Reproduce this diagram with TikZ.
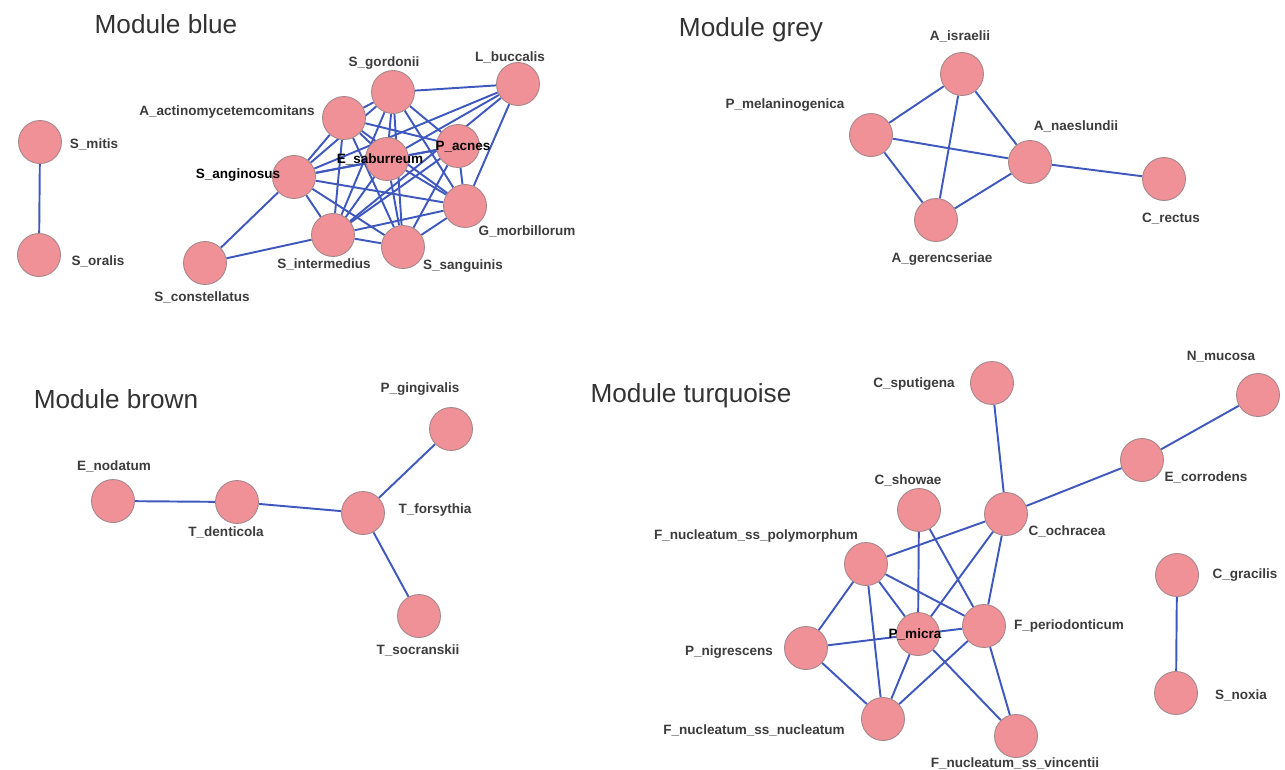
\documentclass[tikz,border=0pt]{standalone}
\usepackage{fontspec}
\setmainfont{Liberation Sans}
\usetikzlibrary{backgrounds}
\definecolor{bugpink}{RGB}{240,145,152}
\definecolor{bugrim}{RGB}{165,135,138}
\definecolor{linkblue}{RGB}{62,88,190}
\definecolor{lblgrey}{RGB}{60,60,60}
\begin{document}
\begin{tikzpicture}[x=0.02cm,y=-0.02cm,
    bug/.style={circle,fill=bugpink,draw=bugrim,line width=0.5pt,minimum size=0.86cm,inner sep=0pt},
    lbl/.style={font=\fontsize{7.7}{9}\selectfont\bfseries,text=lblgrey,inner sep=1pt},
    hot/.style={lbl,text=black},
    title/.style={font=\fontsize{14.9}{17}\selectfont,text=black!80,inner sep=0pt},
    link/.style={linkblue,line width=1.1pt}]

    \useasboundingbox (0,0) rectangle (1285,769);

    \node[title] (tblue) at (166,24) {Module blue};
    \node[title] (tgrey) at (751,30) {Module grey};
    \node[title] (tbrown) at (116,399) {Module brown};
    \node[title] (tturq) at (691,396) {Module turquoise};

    \node[bug] (mit) at (40,142) {};
    \node[bug] (ora) at (39,255) {};
    \node[bug] (gor) at (393,92) {};
    \node[bug] (buc) at (518,84) {};
    \node[bug] (act) at (344,118) {};
    \node[bug] (acn) at (458,146) {};
    \node[bug] (sab) at (387,159) {};
    \node[bug] (ang) at (294,177) {};
    \node[bug] (mor) at (465,206) {};
    \node[bug] (int) at (333,235) {};
    \node[bug] (san) at (403,247) {};
    \node[bug] (con) at (205,263) {};

    \node[bug] (isr) at (962,74) {};
    \node[bug] (mel) at (871,135) {};
    \node[bug] (nae) at (1030,162) {};
    \node[bug] (rec) at (1164,179) {};
    \node[bug] (ger) at (936,220) {};

    \node[bug] (nod) at (113,501) {};
    \node[bug] (den) at (237,502) {};
    \node[bug] (for) at (363,513) {};
    \node[bug] (gin) at (451,429) {};
    \node[bug] (soc) at (419,616) {};

    \node[bug] (spu) at (992,383) {};
    \node[bug] (muc) at (1258,395) {};
    \node[bug] (cor) at (1142,460) {};
    \node[bug] (sho) at (919,510) {};
    \node[bug] (och) at (1006,514) {};
    \node[bug] (pol) at (866,564) {};
    \node[bug] (gra) at (1177,575) {};
    \node[bug] (per) at (984,626) {};
    \node[bug] (mic) at (918,634) {};
    \node[bug] (nig) at (806,648) {};
    \node[bug] (nox) at (1176,693) {};
    \node[bug] (nuc) at (883,719) {};
    \node[bug] (vin) at (1016,736) {};

    \node[lbl] (mit-t) at (94,144) {S\_mitis};
    \node[lbl] (ora-t) at (98,261) {S\_oralis};
    \node[lbl] (gor-t) at (384,63) {S\_gordonii};
    \node[lbl] (buc-t) at (510,57) {L\_buccalis};
    \node[lbl] (act-t) at (227,112) {A\_actinomycetemcomitans};
    \node[hot] (acn-t) at (463,147) {P\_acnes};
    \node[hot] (sab-t) at (380,159) {E\_saburreum};
    \node[hot] (ang-t) at (238,175) {S\_anginosus};
    \node[lbl] (mor-t) at (527,231) {G\_morbillorum};
    \node[lbl] (int-t) at (324,264) {S\_intermedius};
    \node[lbl] (san-t) at (463,266) {S\_sanguinis};
    \node[lbl] (con-t) at (202,297) {S\_constellatus};

    \node[lbl] (isr-t) at (960,36) {A\_israelii};
    \node[lbl] (mel-t) at (785,105) {P\_melaninogenica};
    \node[lbl] (nae-t) at (1076,126) {A\_naeslundii};
    \node[lbl] (rec-t) at (1171,219) {C\_rectus};
    \node[lbl] (ger-t) at (942,259) {A\_gerencseriae};

    \node[lbl] (nod-t) at (114,466) {E\_nodatum};
    \node[lbl] (den-t) at (226,532) {T\_denticola};
    \node[lbl] (for-t) at (435,510) {T\_forsythia};
    \node[lbl] (gin-t) at (420,389) {P\_gingivalis};
    \node[lbl] (soc-t) at (418,650) {T\_socranskii};

    \node[lbl] (spu-t) at (914,384) {C\_sputigena};
    \node[lbl] (muc-t) at (1221,357) {N\_mucosa};
    \node[lbl] (cor-t) at (1206,477) {E\_corrodens};
    \node[lbl] (sho-t) at (908,480) {C\_showae};
    \node[lbl] (och-t) at (1067,531) {C\_ochracea};
    \node[lbl] (pol-t) at (756,536) {F\_nucleatum\_ss\_polymorphum};
    \node[lbl] (gra-t) at (1245,575) {C\_gracilis};
    \node[lbl] (per-t) at (1069,626) {F\_periodonticum};
    \node[hot] (mic-t) at (915,634) {P\_micra};
    \node[lbl] (nig-t) at (729,652) {P\_nigrescens};
    \node[lbl] (nox-t) at (1241,695) {S\_noxia};
    \node[lbl] (nuc-t) at (754,730) {F\_nucleatum\_ss\_nucleatum};
    \node[lbl] (vin-t) at (1015,763) {F\_nucleatum\_ss\_vincentii};

    \begin{scope}[on background layer]
    \draw[link] (mit) -- (ora);
    \draw[link] (gor) -- (act);
    \draw[link] (gor) -- (acn);
    \draw[link] (gor) -- (sab);
    \draw[link] (gor) -- (ang);
    \draw[link] (gor) -- (mor);
    \draw[link] (gor) -- (int);
    \draw[link] (gor) -- (san);
    \draw[link] (act) -- (acn);
    \draw[link] (act) -- (sab);
    \draw[link] (act) -- (ang);
    \draw[link] (act) -- (mor);
    \draw[link] (act) -- (int);
    \draw[link] (act) -- (san);
    \draw[link] (acn) -- (sab);
    \draw[link] (acn) -- (ang);
    \draw[link] (acn) -- (mor);
    \draw[link] (acn) -- (int);
    \draw[link] (acn) -- (san);
    \draw[link] (sab) -- (ang);
    \draw[link] (sab) -- (mor);
    \draw[link] (sab) -- (int);
    \draw[link] (sab) -- (san);
    \draw[link] (ang) -- (mor);
    \draw[link] (ang) -- (int);
    \draw[link] (ang) -- (san);
    \draw[link] (mor) -- (int);
    \draw[link] (mor) -- (san);
    \draw[link] (int) -- (san);
    \draw[link] (buc) -- (gor);
    \draw[link] (buc) -- (ang);
    \draw[link] (buc) -- (sab);
    \draw[link] (buc) -- (int);
    \draw[link] (buc) -- (mor);
    \draw[link] (con) -- (ang);
    \draw[link] (con) -- (int);

    \draw[link] (isr) -- (mel);
    \draw[link] (isr) -- (nae);
    \draw[link] (isr) -- (ger);
    \draw[link] (mel) -- (nae);
    \draw[link] (mel) -- (ger);
    \draw[link] (nae) -- (ger);
    \draw[link] (nae) -- (rec);

    \draw[link] (nod) -- (den);
    \draw[link] (den) -- (for);
    \draw[link] (for) -- (gin);
    \draw[link] (for) -- (soc);

    \draw[link] (spu) -- (och);
    \draw[link] (muc) -- (cor);
    \draw[link] (cor) -- (och);
    \draw[link] (och) -- (pol);
    \draw[link] (och) -- (mic);
    \draw[link] (och) -- (per);
    \draw[link] (sho) -- (mic);
    \draw[link] (sho) -- (per);
    \draw[link] (pol) -- (per);
    \draw[link] (pol) -- (mic);
    \draw[link] (pol) -- (nig);
    \draw[link] (pol) -- (nuc);
    \draw[link] (nig) -- (per);
    \draw[link] (nig) -- (nuc);
    \draw[link] (mic) -- (nuc);
    \draw[link] (per) -- (nuc);
    \draw[link] (per) -- (vin);
    \draw[link] (mic) -- (vin);
    \draw[link] (gra) -- (nox);
    \end{scope}
\end{tikzpicture}
\end{document}
